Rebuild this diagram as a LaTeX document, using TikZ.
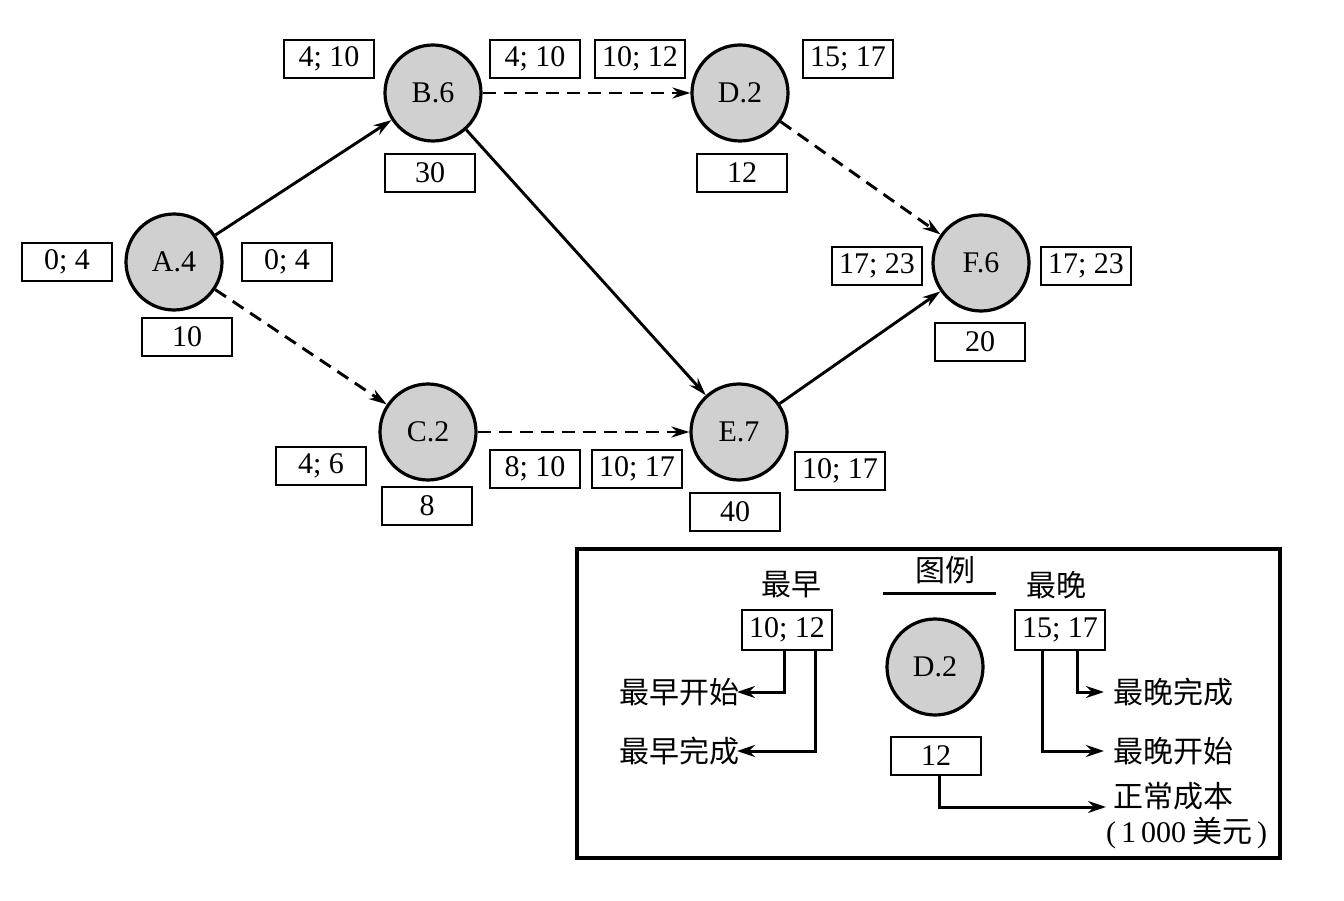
\documentclass[tikz,border=0pt]{standalone}
\usepackage{fontspec}
\setmainfont{Liberation Serif}
\newfontfamily\cjk{Noto Sans CJK SC}
\usetikzlibrary{arrows.meta}
\definecolor{nodegray}{RGB}{208,208,208}
\begin{document}
\begin{tikzpicture}[x=1pt,y=-1pt,
  every node/.style={font=\fontsize{30}{36}\selectfont},
  act/.style={circle, draw, line width=3.2pt, fill=nodegray, minimum size=96pt, inner sep=0pt},
  valbox/.style={draw, line width=2.7pt, minimum width=90pt, minimum height=38pt, inner sep=0pt},
  link/.style={line width=2.9pt, -{Stealth[length=18pt,width=11pt]}},
  dlink/.style={link, dash pattern=on 13pt off 8pt},
  legarrow/.style={line width=3pt, -{Stealth[length=18pt,width=12pt]}},
  cjktext/.style={font=\fontsize{30}{36}\selectfont\cjk, inner sep=0pt}
]
\useasboundingbox (0,0) rectangle (1344,901);

% activity nodes
\node[act] (A) at (174,262) {A.4};
\node[act] (B) at (433,93) {B.6};
\node[act] (D) at (740,93) {D.2};
\node[act] (C) at (428,432) {C.2};
\node[act] (E) at (739,432) {E.7};
\node[act] (F) at (981,263) {F.6};

% value boxes
\node[valbox] (a1) at (67,262) {0; 4};
\node[valbox] (a2) at (287,262) {0; 4};
\node[valbox] (a3) at (187,337) {10};
\node[valbox] (b1) at (329,59) {4; 10};
\node[valbox] (b2) at (535,59) {4; 10};
\node[valbox] (b3) at (430,173) {30};
\node[valbox] (d1) at (640,59) {10; 12};
\node[valbox] (d2) at (848,59) {15; 17};
\node[valbox] (d3) at (742,173) {12};
\node[valbox] (f1) at (877,266) {17; 23};
\node[valbox] (f2) at (1086,266) {17; 23};
\node[valbox] (f3) at (980,342) {20};
\node[valbox] (c1) at (321,466) {4; 6};
\node[valbox] (c3) at (427,506) {8};
\node[valbox] (c2) at (535,469) {8; 10};
\node[valbox] (e1) at (637,469) {10; 17};
\node[valbox] (e2) at (840,471) {10; 17};
\node[valbox] (e3) at (735,512) {40};

% connectors
\draw[link] (A) -- (B);
\draw[dlink] (A) -- (C);
\draw[dlink] (B) -- (D);
\draw[link] (B) -- (E);
\draw[dlink] (C) -- (E);
\draw[dlink] (D) -- (F);
\draw[link] (E) -- (F);

% legend
\draw[line width=3.2pt] (577,549) rectangle (1280,858);
\node[cjktext] (lt) at (945,570) {图例};
\draw[line width=3pt] (883,593) -- (996,593);
\node[cjktext] (lea) at (791,585) {最早};
\node[cjktext] (lla) at (1056,585) {最晚};
\node[valbox, minimum height=40pt] (lb1) at (787,630) {10; 12};
\node[valbox, minimum height=40pt] (lb2) at (1060,630) {15; 17};
\node[act] (lD) at (935,667) {D.2};
\node[valbox] (lb3) at (936,756) {12};

\node[cjktext, anchor=east] (es) at (740,692) {最早开始};
\node[cjktext, anchor=east] (ef) at (740,751) {最早完成};
\node[cjktext, anchor=west] (lf) at (1113,692) {最晚完成};
\node[cjktext, anchor=west] (ls) at (1113,751) {最晚开始};
\node[cjktext, anchor=west] (nc) at (1113,796) {正常成本};
\node[cjktext, anchor=west] (nc2) at (1106,833) {{\rmfamily(\,1\,000}\hspace{6pt}美元{\rmfamily\,)}};
\coordinate (ncp) at (1106,807);

\draw[legarrow] ([xshift=-3pt]lb1.south) |- ([xshift=-3pt]es.east);
\draw[legarrow] ([xshift=28pt]lb1.south) |- ([xshift=-3pt]ef.east);
\draw[legarrow] ([xshift=17pt]lb2.south) |- ([xshift=-9pt]lf.west);
\draw[legarrow] ([xshift=-18pt]lb2.south) |- ([xshift=-9pt]ls.west);
\draw[legarrow] ([xshift=3pt]lb3.south) |- (ncp);
\end{tikzpicture}
\end{document}
